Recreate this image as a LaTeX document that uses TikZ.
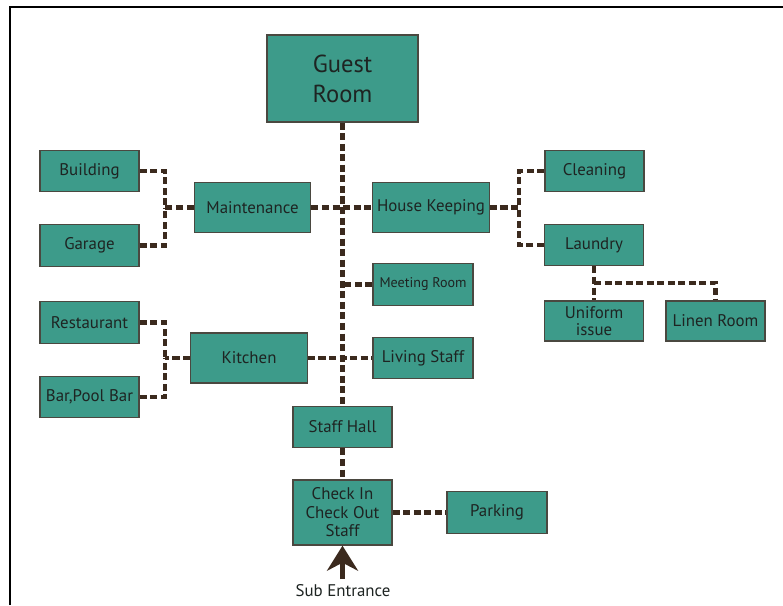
\documentclass[tikz,border=0pt]{standalone}
\usepackage{fontspec}
\setmainfont{PT Sans}
\usepackage{xcolor}
\usepackage{tikz}
\usetikzlibrary{arrows.meta}

\definecolor{boxfill}{HTML}{3D9B8A}
\definecolor{boxline}{HTML}{4A4840}
\definecolor{linkcol}{HTML}{3B2A1E}
\definecolor{txtcol}{HTML}{1E2422}

\begin{document}
\begin{tikzpicture}[
        x=0.02cm, y=-0.02cm,
        room/.style={draw=boxline, line width=0.8pt, fill=boxfill, text=txtcol, font=\fontsize{9.6}{10}\selectfont,
                     minimum width=1.98cm, minimum height=0.83cm, inner sep=1pt, align=center},
        bigroom/.style={room, minimum width=3.02cm, minimum height=1.74cm, font=\fontsize{14}{17}\selectfont},
        wideroom/.style={room, minimum width=2.33cm, minimum height=1.01cm},
        link/.style={draw=linkcol, line width=2.6pt, dash pattern=on 4pt off 2pt},
        entry/.style={draw=linkcol, line width=2.6pt, -{Stealth[length=0.5cm, width=0.62cm, inset=0.16cm]}},
        frame/.style={draw=black, line width=0.9pt}
    ]
    \useasboundingbox (0,0) rectangle (783,605);
    \draw[frame] (10,605) -- (10,7) -- (783,7);

    % Main spine
    \node[bigroom] (guest) at (342.5, 78.5) {Guest\\Room};
    \node[room] (staffhall) at (342.5, 427) {Staff Hall};
    \node[room, minimum height=1.3cm, font=\fontsize{9.6}{10.5}\selectfont] (checkin) at (342.5, 512.5) {Check In\\Check Out\\Staff};
    \node[room, minimum width=2cm] (parking) at (497, 512.5) {Parking};
    \node[text=txtcol, font=\fontsize{9.6}{10}\selectfont] (subent) at (343, 591) {Sub Entrance};
    \coordinate (entrybase) at (342.5, 579);

    % Rooms on the right of the spine
    \node[wideroom] (house) at (431, 207.5) {House Keeping};
    \node[room, minimum width=2cm, font=\fontsize{8}{9}\selectfont] (meeting) at (423, 284.5) {Meeting Room};
    \node[room, minimum width=2cm] (living) at (423, 358) {Living Staff};
    \node[room] (cleaning) at (594.5, 171) {Cleaning};
    \node[room] (laundry) at (594, 245) {Laundry};
    \node[room, minimum height=0.8cm, font=\fontsize{9.6}{9.8}\selectfont] (uniform) at (594, 321) {Uniform\\issue};
    \node[room, minimum height=0.8cm] (linen) at (715.5, 321) {Linen Room};

    % Rooms on the left of the spine
    \node[wideroom] (maint) at (252.5, 207.5) {Maintenance};
    \node[wideroom, minimum height=1cm] (kitchen) at (249, 358) {Kitchen};
    \node[room] (building) at (89.5, 171) {Building};
    \node[room] (garage) at (89.5, 245.5) {Garage};
    \node[room] (restaurant) at (89.5, 322.5) {Restaurant};
    \node[room] (barpool) at (89.5, 397) {Bar,Pool Bar};

    % Junctions of the brackets
    \coordinate (mbr) at (165, 207.5);
    \coordinate (kbr) at (165, 358);
    \coordinate (hbr) at (519, 207.5);
    \coordinate (lbr) at (594, 283);

    % Dashed connectors
    \draw[link] (guest.south) -- (staffhall.north);
    \draw[link] (staffhall.south) -- (checkin.north);
    \draw[link] (checkin.east) -- (parking.west);
    \draw[link] (maint.east) -- (house.west);
    \draw[link] (kitchen.east) -- (living.west);
    \draw[link] (meeting.west) -- (meeting.west -| guest.south);
    \draw[link] (building.east) -| (mbr);
    \draw[link] (garage.east) -| (mbr);
    \draw[link] (maint.west) -- (mbr);
    \draw[link] (restaurant.east) -| (kbr);
    \draw[link] (barpool.east) -| (kbr);
    \draw[link] (kitchen.west) -- (kbr);
    \draw[link] (cleaning.west) -| (hbr);
    \draw[link] (laundry.west) -| (hbr);
    \draw[link] (house.east) -- (hbr);
    \draw[link] (laundry.south) -- (uniform.north);
    \draw[link] (lbr) -| (linen.north);

    % Entrance arrow
    \draw[entry] (entrybase) -- (checkin.south);

\end{tikzpicture}
\end{document}
